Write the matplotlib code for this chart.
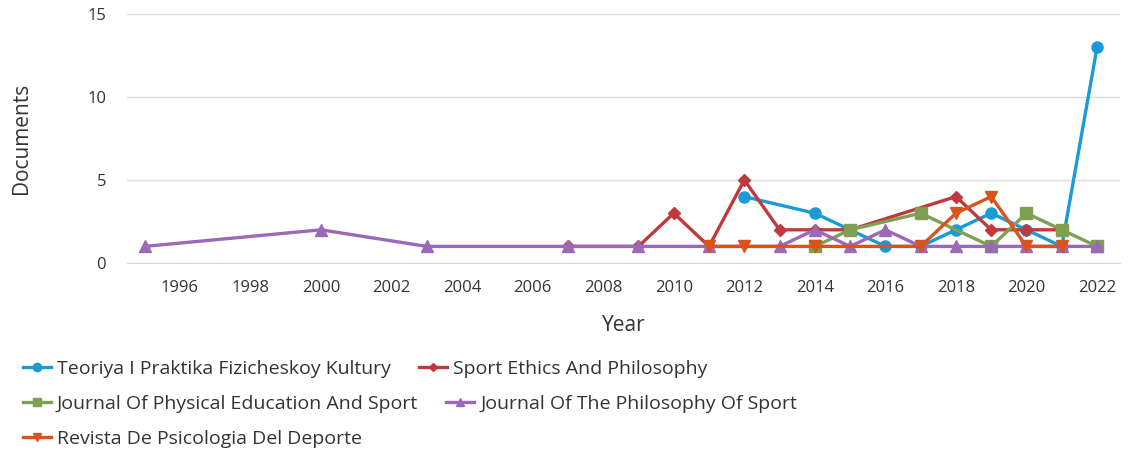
import matplotlib.pyplot as plt
from matplotlib.lines import Line2D

plt.rcParams['font.family'] = ['Open Sans', 'DejaVu Sans']

# document counts per source
teoriya_years = [2012, 2014, 2015, 2016, 2017, 2018, 2019, 2020, 2021, 2022]
teoriya_docs = [4, 3, 2, 1, 1, 2, 3, 2, 1, 13]

ethics_years = [2007, 2009, 2010, 2011, 2012, 2013, 2014, 2015, 2018, 2019, 2020, 2021]
ethics_docs = [1, 1, 3, 1, 5, 2, 2, 2, 4, 2, 2, 2]

jpes_years = [2014, 2015, 2017, 2019, 2020, 2021, 2022]
jpes_docs = [1, 2, 3, 1, 3, 2, 1]

philo_years = [1995, 2000, 2003, 2007, 2009, 2011, 2013, 2014, 2015, 2016, 2017,
               2018, 2019, 2020, 2021, 2022]
philo_docs = [1, 2, 1, 1, 1, 1, 1, 2, 1, 2, 1, 1, 1, 1, 1, 1]

revista_years = [2011, 2012, 2014, 2017, 2018, 2019, 2020, 2021]
revista_docs = [1, 1, 1, 1, 3, 4, 1, 1]

x_ticks = list(range(1996, 2023, 2))
y_ticks = [0, 5, 10, 15]

series = [
    ("Teoriya I Praktika Fizicheskoy Kultury", teoriya_years, teoriya_docs, "#1a9bd7", "o", 8),
    ("Sport Ethics And Philosophy", ethics_years, ethics_docs, "#c0393d", "D", 6),
    ("Journal Of Physical Education And Sport", jpes_years, jpes_docs, "#7f9f52", "s", 8),
    ("Journal Of The Philosophy Of Sport", philo_years, philo_docs, "#9b69b7", "^", 8),
    ("Revista De Psicologia Del Deporte", revista_years, revista_docs, "#d9541a", "v", 8),
]

fig = plt.figure(figsize=(11.29, 4.55), dpi=100)
ax = fig.add_axes([0.1125, 0.422, 0.8795, 0.547])

handles = {}
for name, xs, ys, color, marker, ms in series:
    ax.plot(xs, ys, color=color, marker=marker, markersize=ms, linewidth=2.4,
            clip_on=False, zorder=3)
    handles[name] = Line2D([], [], color=color, marker=marker, markersize=ms - 2,
                           linewidth=2.4)

ax.set_xlim(1994.5, 2022.65)
ax.set_ylim(0, 15)
ax.set_xticks(x_ticks)
ax.set_yticks(y_ticks)
ax.grid(axis='y', color='#dddddd', linewidth=1)
ax.set_axisbelow(True)
for side in ['top', 'right', 'left']:
    ax.spines[side].set_visible(False)
ax.spines['bottom'].set_color('#ccd6eb')
ax.tick_params(axis='both', length=0, labelsize=12, colors='#333333')
ax.tick_params(axis='x', pad=12)
ax.tick_params(axis='y', pad=15)
ax.set_xlabel("Year", fontsize=15, color='#333333', labelpad=14)
ax.set_ylabel("Documents", fontsize=15, color='#333333', labelpad=40)

names = [s[0] for s in series]
rows = [[names[0], names[1]], [names[2], names[3]], [names[4]]]
row_y = [369, 404, 439]
for row, y in zip(rows, row_y):
    leg = fig.legend([handles[n] for n in row], row, loc='center left',
                     bbox_to_anchor=(0.02, 1 - y / 455), ncol=len(row),
                     frameon=False, fontsize=14, handlelength=1.45,
                     handletextpad=0.3, columnspacing=1.45, borderaxespad=0,
                     borderpad=0)
    for t in leg.get_texts():
        t.set_color('#333333')

fig.savefig("out.png", dpi=100)
